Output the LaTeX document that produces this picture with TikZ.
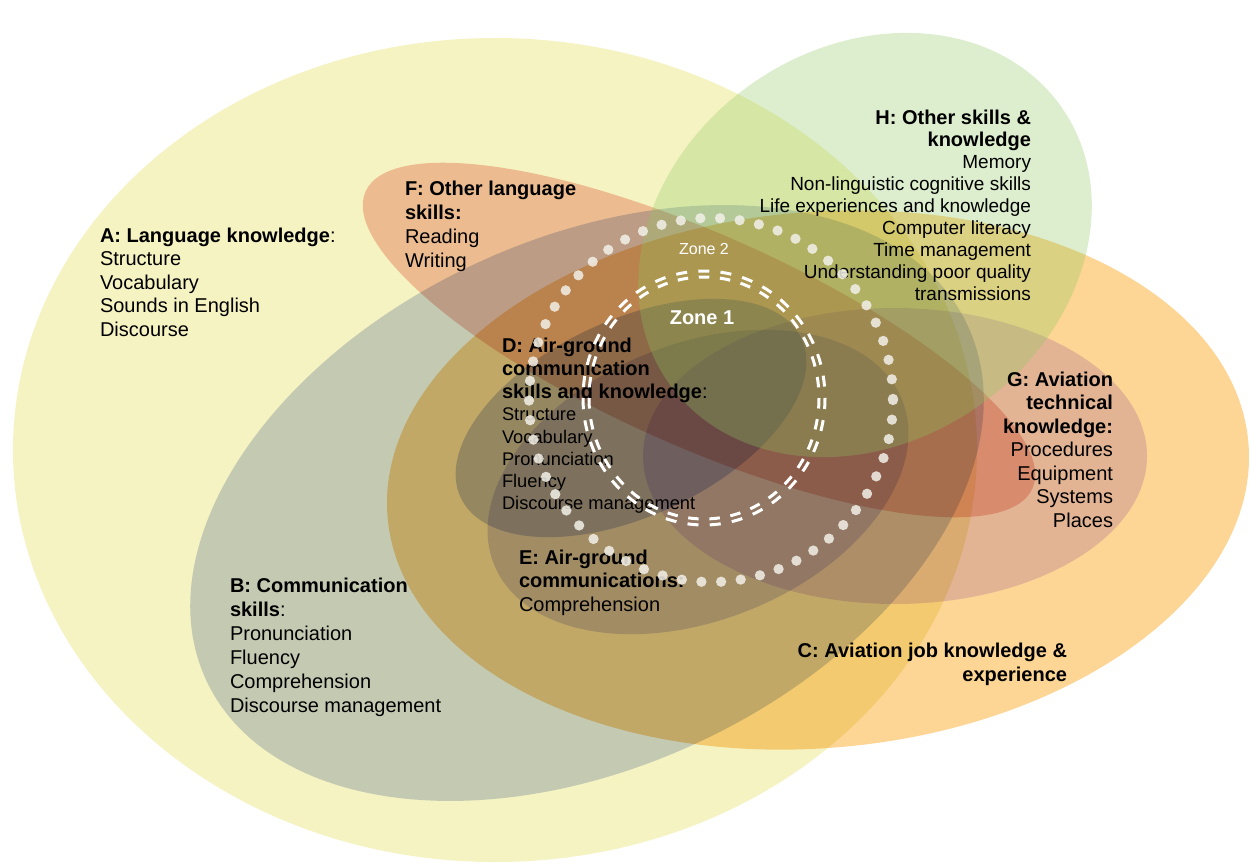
\documentclass[tikz,border=0pt]{standalone}
\usepackage{fontspec}
\setmainfont{Liberation Sans}
\definecolor{cA}{RGB}{246,243,194}
\definecolor{cB}{RGB}{204,212,234}
\definecolor{cC}{RGB}{253,213,148}
\definecolor{cF}{RGB}{245,198,190}
\definecolor{cG}{RGB}{228,216,255}
\definecolor{cD}{RGB}{196,206,240}
\definecolor{cE}{RGB}{214,214,250}
\definecolor{cH}{RGB}{141,201,95}
\definecolor{dotcol}{RGB}{242,240,232}
\begin{document}
\begin{tikzpicture}[x=1pt,y=-1pt,
  txt/.style={inner sep=0pt, outer sep=0pt, text=black, font=\fontsize{20}{23.5}\selectfont},
  zonedot/.style={draw=dotcol, draw opacity=0.85, line width=10.3pt, line cap=round, dash pattern=on 0pt off 19.7pt},
  zonedash/.style={draw=white, line width=3pt},
]
\useasboundingbox (0,0) rectangle (1251,864);
\fill[white] (0,0) rectangle (1251,864);
\begin{scope}[blend mode=multiply]
  \fill[cA] (495,450) ellipse [x radius=482, y radius=412];
  \fill[cB, rotate around={25:(587,503)}] (587,503) ellipse [x radius=420, y radius=264];
  \fill[cC, rotate around={5:(818,480)}] (818,480) ellipse [x radius=432, y radius=268];
  \fill[cF, rotate around={-24:(699,340)}] (699,340) ellipse [x radius=365, y radius=106];
  \fill[cG] (895,456) ellipse [x radius=252, y radius=148];
  \fill[cD, rotate around={25:(631,418)}] (631,418) ellipse [x radius=188, y radius=98];
  \fill[cE, rotate around={22:(698,482)}] (698,482) ellipse [x radius=220, y radius=138];
\end{scope}
\fill[cH, fill opacity=0.3, rotate around={35:(865,245)}] (865,245) ellipse [x radius=240, y radius=197];

\node[txt, anchor=north west, align=left] (labA) at (100,228)
  {\textbf{A: Language knowledge}:\\Structure\\Vocabulary\\Sounds in English\\Discourse};
\node[txt, anchor=north west, align=left, font=\fontsize{20}{24}\selectfont] (labF) at (405,181)
  {\textbf{F: Other language}\\\textbf{skills:}\\Reading\\Writing};
\node[txt, anchor=north east, align=right, font=\fontsize{19}{22}\selectfont] (labH) at (1031,110)
  {\textbf{\fontsize{20}{22}\selectfont H: Other skills \&}\\\textbf{\fontsize{20}{22}\selectfont knowledge}\\Memory\\Non-linguistic cognitive skills\\Life experiences and knowledge\\Computer literacy\\Time management\\Understanding poor quality\\transmissions};
\node[txt, anchor=north east, align=right] (labG) at (1113,372)
  {\textbf{G: Aviation}\\\textbf{technical}\\\textbf{knowledge:}\\Procedures\\Equipment\\Systems\\Places};
\node[txt, anchor=north east, align=right, font=\fontsize{20}{24}\selectfont] (labC) at (1067,643)
  {\textbf{C: Aviation job knowledge \&}\\\textbf{experience}};
\node[txt, anchor=north west, align=left, font=\fontsize{20}{24}\selectfont] (labB) at (230,578)
  {\textbf{B: Communication}\\\textbf{skills}:\\Pronunciation\\Fluency\\Comprehension\\Discourse management};
\node[txt, anchor=north west, align=left, font=\fontsize{20}{23}\selectfont] (labDh) at (502,338)
  {\textbf{D: Air-ground}\\\textbf{communication}\\\textbf{skills and knowledge}:};
\node[txt, anchor=north west, align=left, font=\fontsize{18.3}{22.3}\selectfont] (labDb) at (502,408)
  {Structure\\Vocabulary\\Pronunciation\\Fluency\\Discourse management};
\node[txt, anchor=north west, align=left, font=\fontsize{20}{23.5}\selectfont] (labE) at (519,550)
  {\textbf{E: Air-ground}\\\textbf{communications:}\\Comprehension};
\node[inner sep=0pt, text=white, font=\fontsize{16}{18}\selectfont] (z2) at (704,249) {Zone 2};
\node[inner sep=0pt, text=white, font=\bfseries\fontsize{20}{24}\selectfont] (z1) at (702,318) {Zone 1};

\draw[zonedot] (711,400) circle [radius=182];
\draw[zonedash, dash pattern=on 11pt off 11.26pt] (704,398) ellipse [x radius=121, y radius=127];
\draw[zonedash, dash pattern=on 10.5pt off 10.69pt] (704,398) ellipse [x radius=115, y radius=121];
\end{tikzpicture}
\end{document}
